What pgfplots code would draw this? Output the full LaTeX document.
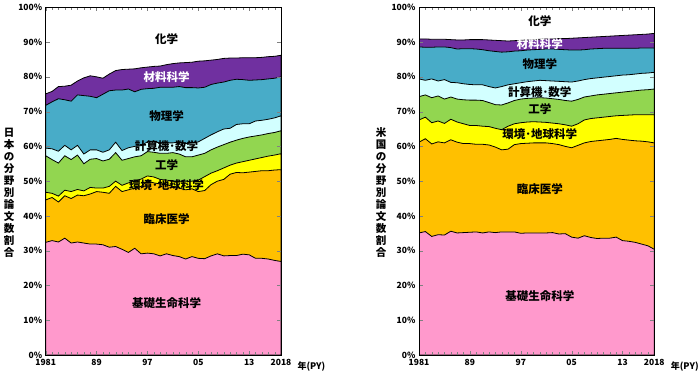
\documentclass[border=0pt]{standalone}
\usepackage{pgfplots}
\pgfplotsset{compat=1.18}
\usepackage{pgfplotstable}
\usepackage{fontspec}
\setmainfont{Noto Sans CJK JP}
\definecolor{cPink}{RGB}{255,153,204}
\definecolor{cOrange}{RGB}{255,192,0}
\definecolor{cYellow}{RGB}{255,255,0}
\definecolor{cGreen}{RGB}{146,214,80}
\definecolor{cCyan}{RGB}{210,255,255}
\definecolor{cTeal}{RGB}{72,172,200}
\definecolor{cPurple}{RGB}{112,48,160}

% cumulative boundaries (%): b1 basic life sci, b2 +clinical, b3 +env/earth, b4 +engineering, b5 +comp/math, b6 +physics, b7 +materials
\pgfplotstableread{
yr   b1   b2   b3   b4   b5   b6   b7
1981 32.4 44.6 46.8 57.3 59.5 71.8 75.1
1982 32.9 45.3 46.5 56.2 59.3 72.8 75.8
1983 32.5 44.0 45.7 55.2 58.6 73.7 77.2
1984 33.6 45.8 47.4 57.3 60.3 73.4 77.3
1985 32.2 45.0 47.0 56.2 59.0 73.0 77.6
1986 32.5 46.0 47.6 57.5 60.3 74.8 78.8
1987 32.2 45.8 47.2 55.0 57.8 74.6 79.7
1988 31.9 46.3 48.2 56.3 59.0 74.4 80.3
1989 31.9 47.0 48.0 56.5 59.0 74.0 80.0
1990 31.7 46.8 48.0 55.8 58.3 75.0 79.6
1991 31.0 46.5 48.5 56.3 59.0 76.0 80.8
1992 31.2 48.5 50.0 58.2 61.2 76.2 81.8
1993 30.4 47.0 48.8 56.0 58.8 76.2 82.1
1994 29.5 47.5 49.5 56.5 59.6 76.5 82.2
1995 30.7 48.0 50.0 57.0 60.0 75.7 82.3
1996 29.1 48.5 50.6 57.3 60.2 76.4 82.6
1997 29.3 50.0 51.5 58.5 61.3 76.6 82.8
1998 29.1 49.5 51.2 58.3 61.3 76.7 83.0
1999 28.5 49.2 50.5 58.0 61.0 77.0 83.1
2000 29.1 49.0 50.3 58.0 61.0 77.0 83.5
2001 28.6 48.5 50.0 58.2 61.0 77.0 83.8
2002 28.3 48.0 50.0 57.8 61.3 77.2 84.0
2003 27.6 47.5 49.8 57.0 60.8 76.9 84.1
2004 28.3 47.8 50.0 57.0 61.0 76.9 84.2
2005 27.8 47.0 50.3 57.5 61.3 76.8 84.5
2006 27.7 47.3 51.3 58.0 62.3 77.0 84.6
2007 28.5 49.0 52.3 59.0 63.3 77.8 84.8
2008 29.1 50.0 53.0 59.8 64.2 78.2 85.0
2009 28.5 50.5 53.8 60.5 65.0 78.5 85.3
2010 28.6 52.0 54.6 61.2 65.2 79.0 85.4
2011 28.6 52.5 55.2 61.8 66.3 79.3 85.4
2012 29.0 52.4 55.6 62.3 66.5 79.2 85.5
2013 28.8 52.6 56.0 62.7 66.5 79.0 85.5
2014 27.8 52.8 56.4 63.0 67.3 79.1 85.5
2015 27.8 53.0 56.8 63.3 67.5 79.2 85.6
2016 27.6 53.0 57.2 63.7 67.8 79.4 85.8
2017 27.2 53.2 57.5 64.0 68.2 79.6 85.9
2018 26.9 53.3 57.9 64.5 68.8 80.0 86.2
}\jp

\pgfplotstableread{
yr   b1   b2   b3   b4   b5   b6   b7
1981 35.1 61.2 67.6 74.3 79.4 88.6 90.9
1982 35.5 62.2 68.4 74.8 79.0 88.5 90.9
1983 34.1 60.7 66.8 74.0 79.4 88.5 90.8
1984 34.6 61.3 67.3 74.5 78.8 88.6 90.8
1985 34.5 61.0 66.6 73.6 79.2 88.6 90.8
1986 35.6 61.9 67.8 74.2 78.4 88.4 90.7
1987 35.1 61.2 67.0 73.6 78.3 88.0 90.6
1988 35.2 60.8 66.5 73.4 78.0 88.1 90.6
1989 35.3 60.8 66.0 73.3 77.8 88.1 90.7
1990 35.4 60.6 66.0 73.3 77.7 88.0 90.7
1991 35.1 60.6 65.8 73.2 77.7 87.8 90.7
1992 35.4 60.4 65.7 72.6 77.2 87.5 90.6
1993 35.2 59.8 65.2 72.0 76.8 87.3 90.5
1994 35.4 59.0 64.8 71.9 77.2 87.1 90.4
1995 35.4 59.2 65.8 72.5 77.7 87.2 90.3
1996 35.4 60.5 66.5 73.2 78.0 87.4 90.4
1997 35.0 60.8 66.8 73.6 78.3 87.5 90.5
1998 35.1 60.9 67.0 73.8 78.6 87.7 90.6
1999 35.1 61.0 67.1 73.9 78.8 87.8 90.7
2000 35.1 61.0 67.0 74.0 79.0 87.9 90.8
2001 35.1 61.0 66.9 73.9 78.9 88.0 90.9
2002 35.2 60.8 66.7 73.7 78.8 88.0 90.9
2003 34.8 60.5 66.5 73.5 78.7 87.9 91.0
2004 34.9 60.0 66.2 73.2 78.6 87.8 91.0
2005 33.9 59.6 65.8 73.0 78.5 87.7 91.1
2006 33.6 60.3 66.5 73.5 78.8 87.7 91.2
2007 34.3 61.0 67.6 74.2 79.2 87.8 91.3
2008 33.8 61.4 68.0 74.5 79.5 88.0 91.4
2009 33.5 61.6 68.2 74.8 79.7 88.1 91.5
2010 33.6 61.8 68.4 75.0 79.9 88.2 91.6
2011 33.6 62.0 68.6 75.2 80.1 88.2 91.7
2012 33.9 62.3 68.8 75.4 80.3 88.2 91.8
2013 32.9 62.0 68.9 75.6 80.5 88.2 91.9
2014 32.7 61.8 69.0 75.8 80.6 88.2 92.0
2015 32.4 61.6 69.1 76.0 80.8 88.2 92.1
2016 31.9 61.5 69.1 76.2 81.0 88.3 92.2
2017 31.4 61.3 69.1 76.3 81.1 88.3 92.3
2018 30.4 61.0 69.1 76.5 81.3 88.3 92.5
}\us

\tikzset{lab/.style={font=\fontsize{11.5}{14}\selectfont\bfseries}}
\pgfplotsset{
  chartstyle/.style={
    scale only axis, width=235.3pt, height=347.7pt,
    anchor=south west,
    xmin=1981, xmax=2018, ymin=0, ymax=100,
    xtick={1981,1989,1997,2005,2013,2018},
    xticklabels={1981,89,97,05,13,2018},
    minor xtick={1982,1983,...,2017},
    ytick={0,10,...,100},
    yticklabel={\pgfmathprintnumber{\tick}\%},
    tick align=inside, axis on top,
    major tick length=4pt, minor tick length=3pt,
    /pgf/number format/assume math mode=true,
    tick label style={font=\fontsize{8.5}{10}\selectfont\bfseries},
    xticklabel style={yshift=-1pt},
    axis line style={line width=0.8pt},
    every axis plot/.append style={draw=black, line width=0.8pt},
  },
}

\begin{document}
\begin{tikzpicture}
\useasboundingbox (0,0) rectangle (700pt,382pt);

% ---------------- Japan ----------------
\begin{axis}[chartstyle, name=jp, at={(45.7pt,27pt)}]
\addplot[fill=cPurple] table[x=yr,y=b7]{\jp} \closedcycle;
\addplot[fill=cTeal]   table[x=yr,y=b6]{\jp} \closedcycle;
\addplot[fill=cCyan]   table[x=yr,y=b5]{\jp} \closedcycle;
\addplot[fill=cGreen]  table[x=yr,y=b4]{\jp} \closedcycle;
\addplot[fill=cYellow] table[x=yr,y=b3]{\jp} \closedcycle;
\addplot[fill=cOrange] table[x=yr,y=b2]{\jp} \closedcycle;
\addplot[fill=cPink]   table[x=yr,y=b1]{\jp} \closedcycle;
\node[lab] at (axis cs:2000,90.8) {化学};
\node[lab, text=white] at (axis cs:2000,79.8) {材料科学};
\node[lab] at (axis cs:2000,68.6) {物理学};
\node[lab] at (axis cs:2000,60.0) {計算機･数学};
\node[lab] at (axis cs:2000,54.6) {工学};
\node[lab] at (axis cs:2000,48.8) {環境･地球科学};
\node[lab] at (axis cs:2000,39.2) {臨床医学};
\node[lab] at (axis cs:2000,15.0) {基礎生命科学};
\end{axis}

% ---------------- USA ----------------
\begin{axis}[chartstyle, name=us, at={(419pt,27pt)}]
\addplot[fill=cPurple] table[x=yr,y=b7]{\us} \closedcycle;
\addplot[fill=cTeal]   table[x=yr,y=b6]{\us} \closedcycle;
\addplot[fill=cCyan]   table[x=yr,y=b5]{\us} \closedcycle;
\addplot[fill=cGreen]  table[x=yr,y=b4]{\us} \closedcycle;
\addplot[fill=cYellow] table[x=yr,y=b3]{\us} \closedcycle;
\addplot[fill=cOrange] table[x=yr,y=b2]{\us} \closedcycle;
\addplot[fill=cPink]   table[x=yr,y=b1]{\us} \closedcycle;
\node[lab] at (axis cs:2000,96.0) {化学};
\node[lab, text=white] at (axis cs:2000,89.3) {材料科学};
\node[lab] at (axis cs:2000,83.6) {物理学};
\node[lab] at (axis cs:2000,75.5) {計算機･数学};
\node[lab] at (axis cs:2000,70.6) {工学};
\node[lab] at (axis cs:2000,63.4) {環境･地球科学};
\node[lab] at (axis cs:2000,47.6) {臨床医学};
\node[lab] at (axis cs:2000,17.0) {基礎生命科学};
\end{axis}

\node[anchor=west, font=\fontsize{9}{10}\selectfont\bfseries, xshift=13pt, yshift=-12pt] at (jp.south east) {年(PY)};
\node[anchor=west, font=\fontsize{9}{10}\selectfont\bfseries, xshift=13pt, yshift=-12pt] at (us.south east) {年(PY)};

\node[align=center, font=\fontsize{10.5}{12}\selectfont\bfseries] at (9pt,189pt)
  {日\\本\\の\\分\\野\\別\\論\\文\\数\\割\\合};
\node[align=center, font=\fontsize{10.5}{12}\selectfont\bfseries] at (381pt,189pt)
  {米\\国\\の\\分\\野\\別\\論\\文\\数\\割\\合};
\end{tikzpicture}
\end{document}
